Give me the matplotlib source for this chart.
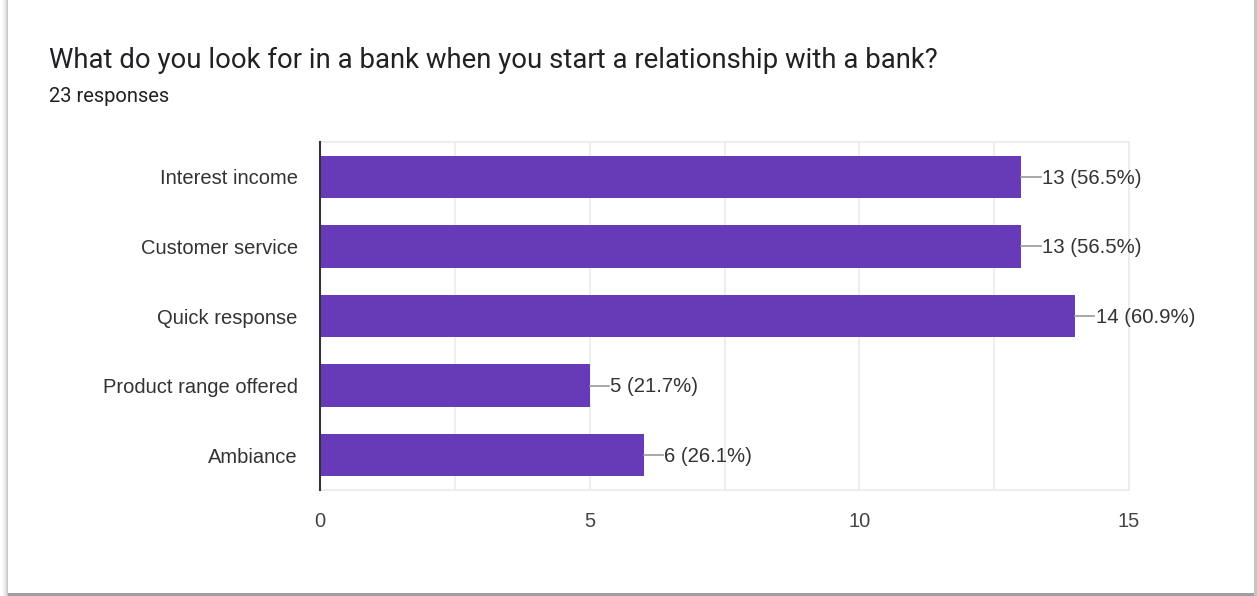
import matplotlib.pyplot as plt
from matplotlib.patches import Rectangle

categories = ["Interest income", "Customer service", "Quick response",
              "Product range offered", "Ambiance"]
counts = [13, 13, 14, 5, 6]
total = 23
title = "What do you look for in a bank when you start a relationship with a bank?"
subtitle = "23 responses"

purple = "#673ab7"
text_col = "#202124"
label_col = "#333333"

plt.rcParams['font.family'] = ['Liberation Sans', 'DejaVu Sans']

fig = plt.figure(figsize=(12.57, 5.96), dpi=100)
W, H = 1257, 596


def px_rect(x0, y0, x1, y1, color, alpha=1.0, z=0):
    # rectangle in pixel coords measured from the top-left corner
    fig.patches.append(Rectangle((x0 / W, 1 - y1 / H), (x1 - x0) / W, (y1 - y0) / H,
                                 transform=fig.transFigure, facecolor=color,
                                 alpha=alpha, edgecolor="none", zorder=z))


# card shadow: soft on the left, solid grey strip along the bottom and right
for i, a in enumerate([0.04, 0.08, 0.13, 0.2, 0.3, 0.42]):
    px_rect(2 + i, 0, 3 + i, 596, "#808080", a)
px_rect(8, 593, 1257, 596, "#a0a0a0")
px_rect(1254, 0, 1257, 596, "#c4c4c4")
px_rect(8, 0, 1254, 593, "white", z=1)

fig.text(49 / W, 1 - 60 / H, title, fontsize=19.8, color=text_col,
         family=['Roboto', 'DejaVu Sans'], va='center', ha='left')
fig.text(49 / W, 1 - 96 / H, subtitle, fontsize=14.5, color=text_col,
         family=['Roboto', 'DejaVu Sans'], va='center', ha='left')

ax = fig.add_axes([320 / W, 1 - 490 / H, 809 / W, 348 / H])
ax.set_zorder(2)
ypos = list(range(len(categories)))
ax.barh(ypos, counts, height=0.61, color=purple, zorder=3)
ax.set_xlim(0, 15)
ax.set_ylim(len(categories) - 0.5, -0.5)
ax.set_yticks(ypos)
ax.set_yticklabels(categories, fontsize=14.5, color=label_col)
ax.set_xticks([0, 5, 10, 15])
ax.set_xticklabels(["0", "5", "10", "15"], fontsize=14.5, color="#444444")
ax.set_xticks([2.5, 7.5, 12.5], minor=True)
ax.tick_params(axis='both', which='both', length=0)
ax.tick_params(axis='y', pad=16)
ax.tick_params(axis='x', pad=16)
ax.grid(axis='x', which='both', color="#ebebeb", linewidth=1.2, zorder=0)
for side in ['top', 'right', 'bottom']:
    ax.spines[side].set_color("#ebebeb")
    ax.spines[side].set_linewidth(1.2)
ax.spines['left'].set_color("#333333")
ax.spines['left'].set_linewidth(1.5)
ax.spines['left'].set_zorder(4)

for y, c in zip(ypos, counts):
    ax.plot([c, c + 0.36], [y, y], color="#999999", linewidth=1.2, zorder=3,
            clip_on=False)
    ax.text(c + 0.38, y + 0.02, f"{c} ({c / total * 100:.1f}%)", fontsize=14.7,
            color=label_col, va='center', ha='left')

fig.savefig("out.png", dpi=100)
